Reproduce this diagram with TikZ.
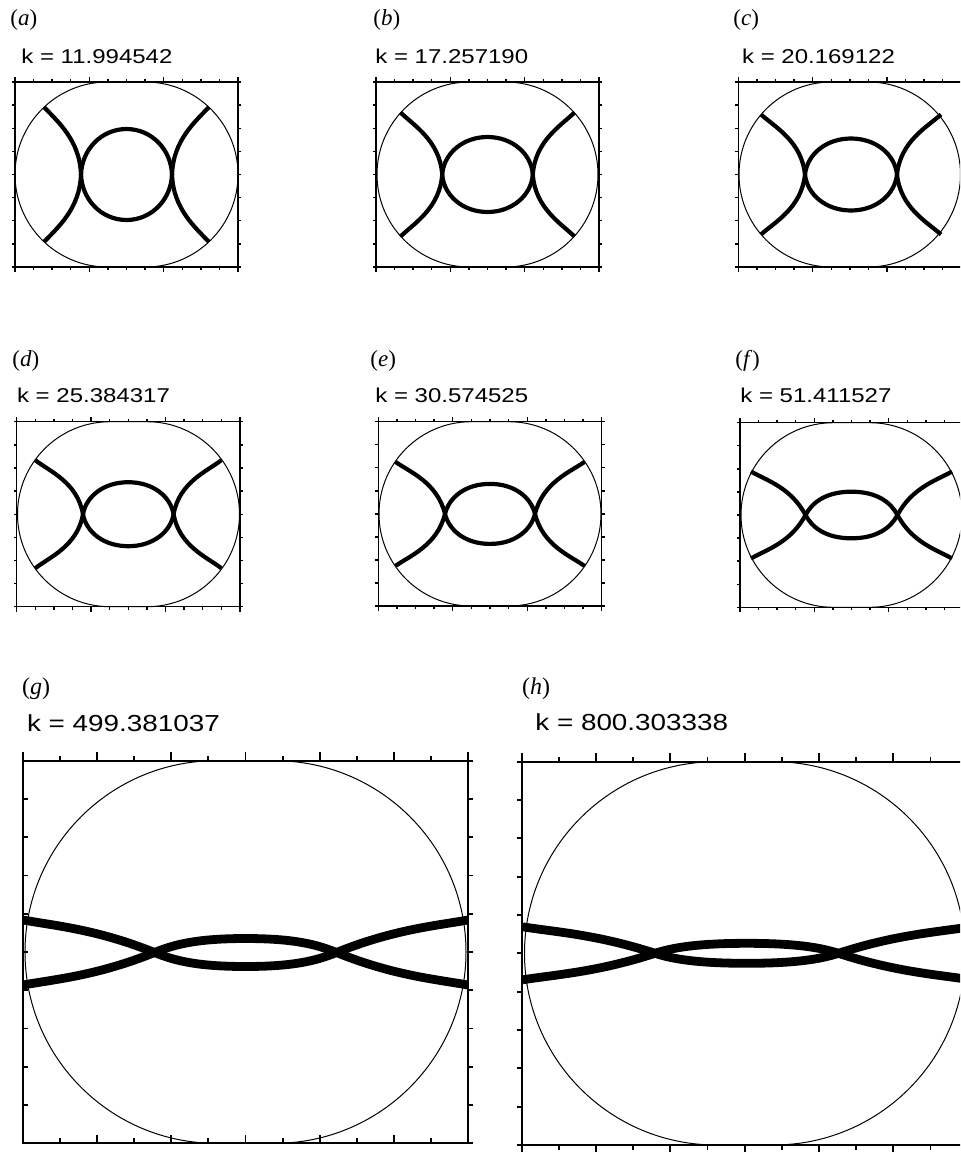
\documentclass[tikz,border=0pt]{standalone}
\usepackage{fontspec}
\setmainfont{Liberation Serif}
\newfontfamily\klabelfont[FakeStretch=1.2]{Liberation Sans}
\usetikzlibrary{calc}

\tikzset{
  wall/.style={line width=0.5pt},
  boxline/.style={line width=0.7pt},
  nodalline/.style={line width=2.1pt},
  panellabel/.style={anchor=west, inner sep=0pt, font=\fontsize{11.5}{12}\selectfont},
  klabel/.style={anchor=base west, inner sep=0pt, font=\klabelfont\fontsize{10}{11}\selectfont},
  bigklabel/.style={klabel, font=\klabelfont\fontsize{11.6}{12}\selectfont},
}

% frame with ticks: left, top, right, bottom, x steps, y steps, tick, side, major
\newcommand\plotbox[9]{%
  \draw[boxline] (#1,#2) rectangle (#3,#4);
  \pgfmathsetmacro\tw{-(#8)*#7}%
  \foreach \i in {0,...,#5}{%
    \pgfmathsetmacro\tx{#1+\i*(#3-#1)/#5}%
    \pgfmathsetmacro\tl{mod(\i,#9)==0 ? 1.7*#7 : #7}%
    \pgfmathsetmacro\tb{#8*\tl}%
    \draw[boxline] (\tx,#2) -- ++(0,-\tl) (\tx,#4) -- ++(0,\tb);
  }%
  \foreach \j in {0,...,#6}{%
    \pgfmathsetmacro\ty{#2+\j*(#4-#2)/#6}%
    \draw[boxline] (#1,\ty) -- ++(\tw,0) (#3,\ty) -- ++(#7,0);
  }}

% stadium boundary: left, top, right, bottom
\newcommand\stadiumwall[4]{%
  \pgfmathsetlengthmacro\wallr{(#4-#2)*0.25pt}%
  \draw[wall, rounded corners=\wallr] (#1,#2) rectangle (#3,#4);}

% nodal lines: centre x, centre y, half gap, oval height, arm end x, arm end y, crossing angle, end angle
\newcommand\nodalset[8]{%
  \pgfmathsetmacro\ovk{0.55*#4/sin(#7)}%
  \pgfmathsetmacro\ovm{0.55*#3}%
  \pgfmathsetmacro\arma{0.45*veclen(#5-#3,#6)}%
  \pgfmathsetmacro\armb{0.25*veclen(#5-#3,#6)}%
  \pgfmathsetmacro\angup{180+#7}\pgfmathsetmacro\angdn{180-#7}%
  \pgfmathsetmacro\endup{180+#8}\pgfmathsetmacro\enddn{180-#8}%
  \begin{scope}[shift={(#1,#2)}]
    \draw[nodalline] (-#5,-#6) .. controls +(#8:\armb) and +(\angup:\arma) .. (-#3,0)
      .. controls +(#7:\ovk) and +(-\ovm,0) .. (0,#4)
      .. controls +(\ovm,0) and +(\angdn:\ovk) .. (#3,0)
      .. controls +(-#7:\arma) and +(\enddn:\armb) .. (#5,-#6);
    \draw[nodalline] (-#5,#6) .. controls +(-#8:\armb) and +(\angdn:\arma) .. (-#3,0)
      .. controls +(-#7:\ovk) and +(-\ovm,0) .. (0,-#4)
      .. controls +(\ovm,0) and +(\angup:\ovk) .. (#3,0)
      .. controls +(#7:\arma) and +(\endup:\armb) .. (#5,#6);
  \end{scope}}

\begin{document}
\begin{tikzpicture}[x=0.5pt, y=-0.5pt]
  \useasboundingbox (0,0) rectangle (960,1152);
  \fill[white] (0,0) rectangle (960,1152);
  \clip (0,0) rectangle (960,1152);

  % first row
  \node[panellabel] (lab-a) at (10,20) {(\textit{a})};
  \node[klabel] (k-a) at (21,63) {k = 11.994542};
  \plotbox{15}{82}{238}{267}{12}{8}{3}{1}{4}
  \stadiumwall{15}{82}{238}{267}
  \nodalset{126.5}{174.5}{45.5}{45.5}{82.5}{67.5}{88}{47}

  \node[panellabel] (lab-b) at (373,20) {(\textit{b})};
  \node[klabel] (k-b) at (375,63) {k = 17.257190};
  \plotbox{376}{82}{599}{267}{12}{8}{3}{1}{4}
  \stadiumwall{377}{82}{598}{267}
  \nodalset{487.5}{174.5}{45.3}{37.5}{87}{62}{86}{44}

  \node[panellabel] (lab-c) at (733,20) {(\textit{c})};
  \node[klabel] (k-c) at (741.7,63) {k = 20.169122};
  \plotbox{738.3}{82}{961.3}{267}{12}{8}{3}{1}{4}
  \stadiumwall{739}{82}{960.5}{267}
  \nodalset{851}{174.5}{46}{36}{90}{60}{84}{42}

  % second row
  \node[panellabel] (lab-d) at (12,360.5) {(\textit{d})};
  \node[klabel] (k-d) at (16.7,402) {k = 25.384317};
  \plotbox{16.7}{421.7}{240}{606.7}{12}{8}{3}{1}{4}
  \stadiumwall{17.5}{421.7}{239.5}{606.7}
  \nodalset{128.3}{514.2}{45.3}{32}{93}{54}{80}{38}

  \node[panellabel] (lab-e) at (370,360.5) {(\textit{e})};
  \node[klabel] (k-e) at (375,402) {k = 30.574525};
  \plotbox{378.3}{421.7}{601.7}{606}{12}{8}{3}{1}{4}
  \stadiumwall{379}{421.7}{601}{606}
  \nodalset{490}{513.9}{45}{30}{94.5}{52}{76}{35}

  \node[panellabel] (lab-f) at (735,360.5) {(\textit{f})};
  \node[klabel] (k-f) at (740,402) {k = 51.411527};
  \plotbox{740}{422.7}{963}{607.3}{12}{8}{3}{1}{4}
  \stadiumwall{741}{422.7}{962}{607.3}
  \nodalset{851.5}{515}{46}{23.3}{100.5}{43.5}{62}{30}

  % third row, larger panels
  \begin{scope}[nodalline/.style={line width=4.4pt}, boxline/.style={line width=0.9pt}]
    \node[panellabel, font=\fontsize{12}{13}\selectfont] (lab-g) at (21.7,689) {(\textit{g})};
    \node[bigklabel] (k-g) at (26.7,731.7) {k = 499.381037};
    \plotbox{22.7}{760.7}{468.3}{1143.3}{12}{10}{5}{-1}{2}
    \stadiumwall{25}{760.7}{466}{1143.3}
    \nodalset{245.5}{952.5}{91}{14}{222.5}{32.5}{22}{10}

    \node[panellabel, font=\fontsize{12}{13}\selectfont] (lab-h) at (521.7,689) {(\textit{h})};
    \node[bigklabel] (k-h) at (535,730.7) {k = 800.303338};
    \plotbox{521.7}{761.7}{967.7}{1145}{12}{10}{5}{1}{2}
    \stadiumwall{524.5}{761.7}{965}{1145}
    \nodalset{746.7}{953.3}{91.7}{10}{224}{26.5}{18}{9}
  \end{scope}
\end{tikzpicture}
\end{document}
